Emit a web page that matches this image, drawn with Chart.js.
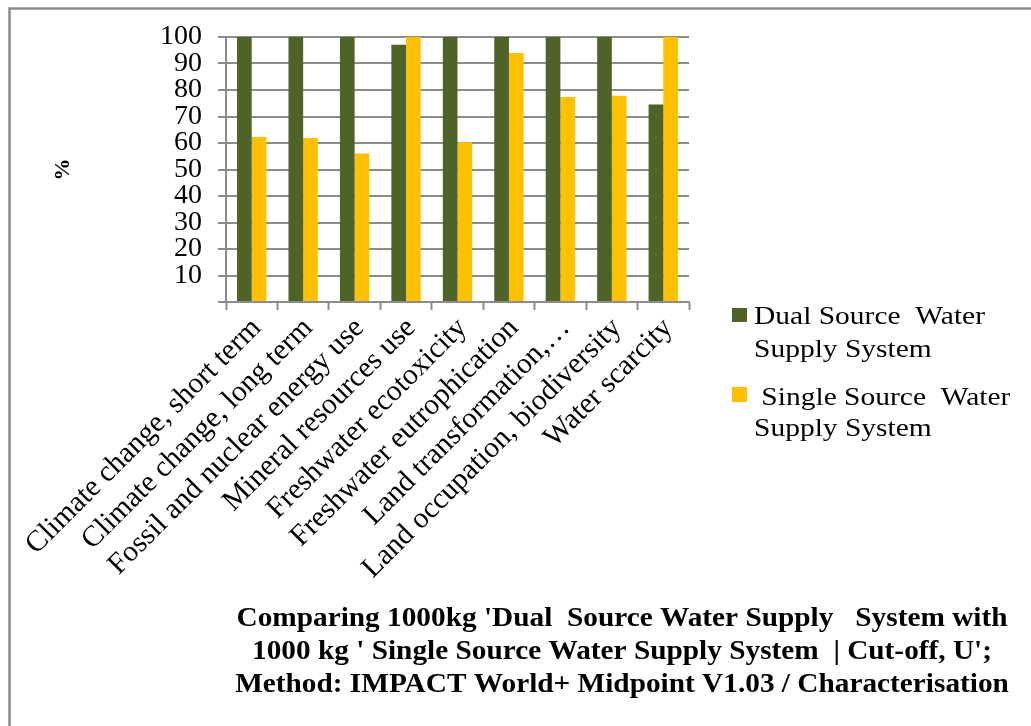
<!DOCTYPE html>
<html>
<head>
<meta charset="utf-8">
<script src="https://cdn.jsdelivr.net/npm/chart.js@4.4.1/dist/chart.umd.min.js"></script>
<style>
  html, body { margin: 0; padding: 0; background: #ffffff; }
  #wrap { width: 1031px; height: 726px; position: relative; }
</style>
</head>
<body>
<div id="wrap"><canvas id="c" width="1031" height="726"></canvas></div>
<script>
// Impact categories (IMPACT World+ midpoint)
const categories = [
  'Climate change, short term',
  'Climate change, long term',
  'Fossil and nuclear energy use',
  'Mineral resources use',
  'Freshwater ecotoxicity',
  'Freshwater eutrophication',
  'Land transformation,\u2026',
  'Land occupation, biodiversity',
  'Water scarcity'
];

// Relative scores in percent
const dualSource   = [100, 100, 100, 97.1, 100, 100, 100, 100, 74.5];
const singleSource = [62.3, 61.9, 56.0, 100, 60.3, 94.0, 77.4, 77.8, 100];

const seriesNames = ['Dual Source  Water\nSupply System', ' Single Source  Water\nSupply System'];
const seriesColors = ['#4F6228', '#FFC000'];

const yTicks = [10, 20, 30, 40, 50, 60, 70, 80, 90, 100];

const titleLines = [
  "Comparing 1000kg 'Dual  Source Water Supply   System with",
  "1000 kg ' Single Source Water Supply System  | Cut-off, U';",
  "Method: IMPACT World+ Midpoint V1.03 / Characterisation"
];

const SERIF = "'Liberation Serif', 'Times New Roman', Times, serif";
const GRID = '#8c8c8c';

// Draws the outer frame, the legend at right and the multi-line caption below
const decorations = {
  id: 'decorations',
  afterDraw(chart) {
    const ctx = chart.ctx;
    ctx.save();
    // frame
    ctx.strokeStyle = '#8a8a8a';
    ctx.lineWidth = 2.5;
    ctx.beginPath();
    ctx.moveTo(9.5, 726);
    ctx.lineTo(9.5, 8.5);
    ctx.lineTo(1031, 8.5);
    ctx.stroke();

    // legend
    ctx.font = '25.5px ' + SERIF;
    ctx.fillStyle = '#000';
    ctx.textBaseline = 'alphabetic';
    ctx.textAlign = 'left';
    const lw = ctx.measureText('Dual Source  Water').width;
    const lsx = 231 / lw;
    const entries = [
      { sq: [732, 308, 15, 14], base: [323.5, 357] },
      { sq: [732, 387, 15, 15], base: [405, 435.5] }
    ];
    entries.forEach((e, i) => {
      ctx.fillStyle = seriesColors[i];
      ctx.fillRect(e.sq[0], e.sq[1], e.sq[2], e.sq[3]);
      ctx.fillStyle = '#000';
      const lines = seriesNames[i].split('\n');
      lines.forEach((t, j) => {
        ctx.save();
        ctx.translate(754, e.base[j]);
        ctx.scale(lsx, 1);
        ctx.fillText(t, 0, 0);
        ctx.restore();
      });
    });

    // caption
    ctx.font = 'bold 27px ' + SERIF;
    ctx.textAlign = 'center';
    const tw = ctx.measureText(titleLines[0]).width;
    const tsx = 771 / tw;
    const bases = [626, 659, 692];
    titleLines.forEach((t, i) => {
      ctx.save();
      ctx.translate(622, bases[i]);
      ctx.scale(tsx, 1);
      ctx.fillText(t, 0, 0);
      ctx.restore();
    });
    ctx.restore();
  }
};

function build() {
  new Chart(document.getElementById('c'), {
    type: 'bar',
    data: {
      labels: categories,
      datasets: [
        { label: seriesNames[0], data: dualSource, backgroundColor: seriesColors[0] },
        { label: seriesNames[1], data: singleSource, backgroundColor: seriesColors[1] }
      ]
    },
    options: {
      responsive: false,
      animation: false,
      events: [],
      layout: { padding: { left: 50, top: 37, right: 342, bottom: 0 } },
      datasets: { bar: { categoryPercentage: 0.571, barPercentage: 1.0 } },
      plugins: {
        legend: { display: false },
        title: { display: false },
        tooltip: { enabled: false }
      },
      scales: {
        x: {
          offset: true,
          grid: {
            display: true,
            drawOnChartArea: false,
            drawTicks: true,
            tickLength: 8,
            tickColor: GRID,
            tickWidth: 2,
            offset: true
          },
          border: { display: true, color: GRID, width: 2 },
          ticks: {
            autoSkip: false,
            minRotation: 45,
            maxRotation: 45,
            padding: 1,
            labelOffset: 5,
            color: '#000',
            font: { family: SERIF, size: 29.5 }
          },
          afterFit(scale) { scale.height = 424; }
        },
        y: {
          min: 0,
          max: 100,
          afterBuildTicks(scale) {
            scale.ticks = [0].concat(yTicks).map(v => ({ value: v }));
          },
          grid: {
            color: GRID,
            lineWidth: 2,
            tickLength: 8,
            tickColor: GRID,
            tickWidth: 2
          },
          border: { display: true, color: GRID, width: 2 },
          ticks: {
            autoSkip: false,
            padding: 16,
            color: '#000',
            font: { family: SERIF, size: 28 },
            callback: (v) => (v === 0 ? '' : String(v))
          },
          title: {
            display: true,
            text: '%',
            color: '#000',
            font: { family: SERIF, size: 22, weight: 'bold' },
            padding: { top: 0, bottom: 0 }
          },
          afterFit(scale) { scale.width = 226 - 50; }
        }
      }
    },
    plugins: [decorations]
  });
}

const fontReady = (document.fonts && document.fonts.load)
  ? Promise.all([
      document.fonts.load("26px 'Liberation Serif'"),
      document.fonts.load("bold 26px 'Liberation Serif'")
    ]).catch(() => null)
  : Promise.resolve();
fontReady.then(build);
</script>
</body>
</html>
